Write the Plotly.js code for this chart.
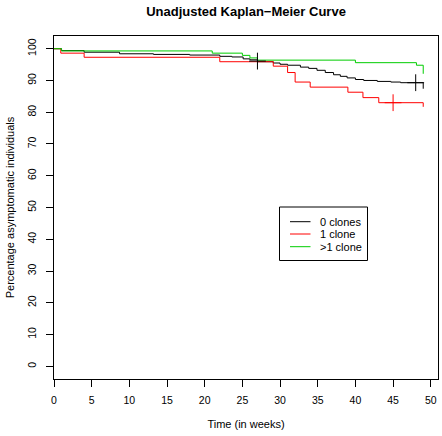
<!DOCTYPE html>
<html>
<head>
<meta charset="utf-8">
<script src="https://cdn.plot.ly/plotly-3.0.1.min.js"></script>
<style>
  html, body { margin: 0; padding: 0; background: #ffffff; }
  #chart { width: 442px; height: 436px; }
</style>
</head>
<body>
<div id="chart"></div>
<script>
// ---- data ----
var seriesNames = ["0 clones", "1 clone", ">1 clone"];

var timeZero = [0, 1, 4, 8.7, 13.2, 18, 22, 23.6, 25.1, 26, 27, 29.1, 30, 31, 32.7, 33.8, 34.9, 36, 37.1, 38, 38.9, 40, 41.1, 42.9, 44.7, 46, 49];
var survZero = [100, 99.4, 98.9, 98.4, 98.2, 98.0, 97.6, 97.4, 96.8, 96.5, 95.9, 95.5, 95.1, 94.8, 94.2, 93.8, 93.2, 92.5, 91.8, 91.3, 90.8, 90.3, 90.0, 89.7, 89.5, 89.3, 87.4];

var timeOne = [0, 0.9, 4, 22, 29.1, 31, 32, 34, 39, 41, 43.1, 49];
var survOne = [100, 98.6, 97.3, 95.9, 94.5, 92.5, 89.5, 87.9, 86.3, 84.6, 83.0, 81.7];

var timeMulti = [0, 1, 21, 25, 26, 27, 40, 48.1, 49];
var survMulti = [100, 99.3, 98.6, 97.9, 97.1, 96.4, 95.6, 94.8, 92.1];

var censorTimeZero = [27, 48];
var censorSurvZero = [96.1, 89.3];
var censorTimeOne = [45];
var censorSurvOne = [83.0];

var xTicks = [0, 5, 10, 15, 20, 25, 30, 35, 40, 45, 50];
var yTicks = [0, 10, 20, 30, 40, 50, 60, 70, 80, 90, 100];

// ---- styling ----
var colors = ["#000000", "#FF0000", "#00CD00"];
var FONT = "Liberation Sans, Arial, Helvetica, sans-serif";

var W = 442, H = 436;
var M = {l: 54, r: 4, t: 36, b: 57};
var pw = W - M.l - M.r, ph = H - M.t - M.b;
function px2paperX(px) { return (px - M.l) / pw; }
function px2paperY(py) { return 1 - (py - M.t) / ph; }

function stepTrace(t, s, i) {
  return {
    x: t, y: s, type: "scatter", mode: "lines",
    line: {shape: "hv", color: colors[i], width: 1},
    name: seriesNames[i], showlegend: false, hoverinfo: "skip"
  };
}
function censorTrace(t, s, i) {
  return {
    x: t, y: s, type: "scatter", mode: "markers",
    marker: {symbol: "cross-thin", size: 12, color: colors[i], line: {color: colors[i], width: 1}},
    showlegend: false, hoverinfo: "skip"
  };
}

var data = [
  stepTrace(timeZero, survZero, 0),
  stepTrace(timeOne, survOne, 1),
  stepTrace(timeMulti, survMulti, 2),
  censorTrace(censorTimeZero, censorSurvZero, 0),
  censorTrace(censorTimeOne, censorSurvOne, 1)
];

// legend drawn with shapes + text
var legBox = {x0: 279.5, x1: 367.5, y0: 207, y1: 260.5};
var legRowsY = [221.7, 234, 246.7];
var shapes = [{
  type: "rect", xref: "paper", yref: "paper",
  x0: px2paperX(legBox.x0), x1: px2paperX(legBox.x1),
  y0: px2paperY(legBox.y1), y1: px2paperY(legBox.y0),
  line: {color: "#000000", width: 1}, fillcolor: "rgba(0,0,0,0)"
}];
var annotations = [];
for (var i = 0; i < seriesNames.length; i++) {
  shapes.push({
    type: "line", xref: "paper", yref: "paper",
    x0: px2paperX(290), x1: px2paperX(310.5),
    y0: px2paperY(legRowsY[i]), y1: px2paperY(legRowsY[i]),
    line: {color: colors[i], width: 1}
  });
  annotations.push({
    xref: "paper", yref: "paper",
    x: px2paperX(318), y: px2paperY(legRowsY[i]),
    xanchor: "left", yanchor: "middle", showarrow: false,
    text: seriesNames[i], font: {family: FONT, size: 11, color: "#000000"}
  });
}

var layout = {
  width: W, height: H,
  margin: M,
  paper_bgcolor: "#ffffff", plot_bgcolor: "#ffffff",
  showlegend: false,
  font: {family: FONT, size: 10, color: "#000000"},
  title: {
    text: "<b>Unadjusted Kaplan\u2212Meier Curve</b>",
    font: {family: FONT, size: 13, color: "#000000"},
    xref: "paper", x: 0.5, xanchor: "center",
    yref: "container", y: 1 - 11 / H, yanchor: "middle"
  },
  xaxis: {
    range: [0, 50.96], tickvals: xTicks, ticktext: xTicks.map(String),
    ticks: "outside", ticklen: 7, tickwidth: 1, tickcolor: "#000000",
    showline: true, linecolor: "#000000", linewidth: 1, mirror: true,
    showgrid: false, zeroline: false, fixedrange: true,
    ticklabelstandoff: 4,
    tickfont: {family: FONT, size: 10.5, color: "#000000"},
    title: {text: "Time (in weeks)", font: {family: FONT, size: 11, color: "#000000"}, standoff: 15}
  },
  yaxis: {
    range: [-4, 104], tickvals: yTicks, ticktext: yTicks.map(String),
    ticks: "outside", ticklen: 7, tickwidth: 1, tickcolor: "#000000",
    showline: true, linecolor: "#000000", linewidth: 1, mirror: true,
    showgrid: false, zeroline: false, fixedrange: true,
    tickangle: -90, ticklabelstandoff: 6,
    tickfont: {family: FONT, size: 10.5, color: "#000000"},
    title: {text: "Percentage asymptomatic individuals", font: {family: FONT, size: 11, color: "#000000"}, standoff: 8}
  },
  shapes: shapes,
  annotations: annotations
};

Plotly.newPlot("chart", data, layout, {displayModeBar: false, staticPlot: true});
</script>
</body>
</html>
